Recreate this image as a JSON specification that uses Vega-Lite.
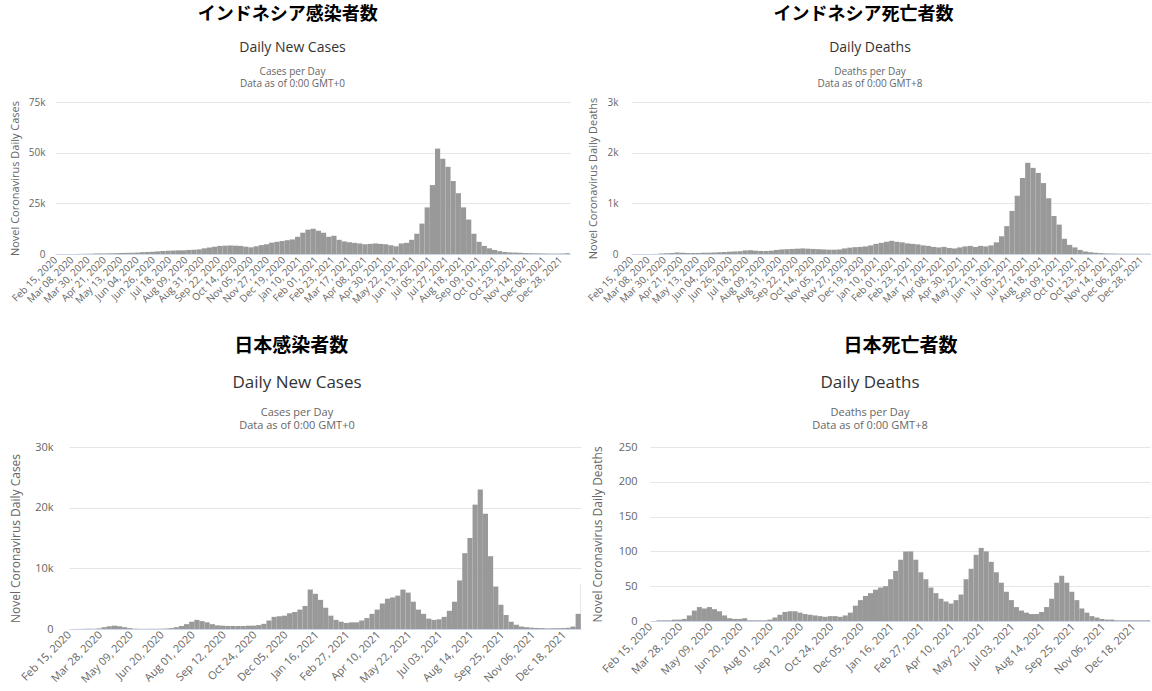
{
"$schema": "https://vega.github.io/schema/vega-lite/v6.json",
"background": "white",
"padding": {"left": 8, "top": 6, "right": 0, "bottom": 0},
"config": {
 "font": "Open Sans",
 "view": {"stroke": null},
 "axis": {"labelColor": "#666666", "titleColor": "#666666", "labelFont": "Open Sans", "titleFont": "Open Sans", "titleFontWeight": "normal", "gridColor": "#e6e6e6", "domainColor": "#ccd6eb"},
 "title": {"font": "Open Sans", "fontWeight": "normal", "color": "#333333", "subtitleColor": "#666666", "subtitleFont": "Open Sans", "anchor": "middle"}
},
"datasets": {"covid": [
{"d":"2020-02-16","ic":0,"id":0,"jc":0,"jd":0},
{"d":"2020-02-23","ic":0,"id":0,"jc":10,"jd":1},
{"d":"2020-03-01","ic":1,"id":0,"jc":30,"jd":1},
{"d":"2020-03-08","ic":10,"id":0,"jc":50,"jd":1},
{"d":"2020-03-15","ic":50,"id":2,"jc":40,"jd":2},
{"d":"2020-03-22","ic":100,"id":10,"jc":100,"jd":2},
{"d":"2020-03-29","ic":120,"id":15,"jc":300,"jd":3},
{"d":"2020-04-05","ic":250,"id":20,"jc":450,"jd":8},
{"d":"2020-04-12","ic":300,"id":30,"jc":550,"jd":15},
{"d":"2020-04-19","ic":300,"id":25,"jc":450,"jd":20},
{"d":"2020-04-26","ic":350,"id":20,"jc":300,"jd":18},
{"d":"2020-05-03","ic":400,"id":20,"jc":150,"jd":20},
{"d":"2020-05-10","ic":500,"id":20,"jc":50,"jd":17},
{"d":"2020-05-17","ic":550,"id":25,"jc":30,"jd":14},
{"d":"2020-05-24","ic":600,"id":25,"jc":30,"jd":8},
{"d":"2020-05-31","ic":700,"id":30,"jc":40,"jd":4},
{"d":"2020-06-07","ic":900,"id":35,"jc":40,"jd":3},
{"d":"2020-06-14","ic":1000,"id":40,"jc":50,"jd":3},
{"d":"2020-06-21","ic":1100,"id":45,"jc":80,"jd":4},
{"d":"2020-06-28","ic":1300,"id":50,"jc":150,"jd":1},
{"d":"2020-07-05","ic":1500,"id":55,"jc":300,"jd":1},
{"d":"2020-07-12","ic":1600,"id":70,"jc":500,"jd":1},
{"d":"2020-07-19","ic":1700,"id":75,"jc":800,"jd":1},
{"d":"2020-07-26","ic":1800,"id":65,"jc":1200,"jd":2},
{"d":"2020-08-02","ic":1800,"id":60,"jc":1500,"jd":5},
{"d":"2020-08-09","ic":2000,"id":60,"jc":1300,"jd":9},
{"d":"2020-08-16","ic":2100,"id":65,"jc":1100,"jd":13},
{"d":"2020-08-23","ic":2300,"id":80,"jc":800,"jd":14},
{"d":"2020-08-30","ic":2800,"id":90,"jc":600,"jd":14},
{"d":"2020-09-06","ic":3200,"id":95,"jc":550,"jd":12},
{"d":"2020-09-13","ic":3600,"id":100,"jc":500,"jd":10},
{"d":"2020-09-20","ic":4000,"id":105,"jc":500,"jd":9},
{"d":"2020-09-27","ic":4100,"id":110,"jc":500,"jd":8},
{"d":"2020-10-04","ic":4200,"id":105,"jc":500,"jd":7},
{"d":"2020-10-11","ic":4100,"id":100,"jc":550,"jd":6},
{"d":"2020-10-18","ic":4000,"id":95,"jc":550,"jd":7},
{"d":"2020-10-25","ic":3600,"id":90,"jc":650,"jd":7},
{"d":"2020-11-01","ic":3300,"id":85,"jc":850,"jd":6},
{"d":"2020-11-08","ic":3800,"id":85,"jc":1400,"jd":8},
{"d":"2020-11-15","ic":4400,"id":90,"jc":2000,"jd":12},
{"d":"2020-11-22","ic":4800,"id":110,"jc":2100,"jd":22},
{"d":"2020-11-29","ic":5600,"id":125,"jc":2200,"jd":30},
{"d":"2020-12-06","ic":6000,"id":135,"jc":2600,"jd":36},
{"d":"2020-12-13","ic":6400,"id":140,"jc":2800,"jd":40},
{"d":"2020-12-20","ic":6800,"id":150,"jc":3200,"jd":45},
{"d":"2020-12-27","ic":7200,"id":170,"jc":3800,"jd":48},
{"d":"2021-01-03","ic":8500,"id":200,"jc":6500,"jd":50},
{"d":"2021-01-10","ic":10500,"id":220,"jc":5800,"jd":60},
{"d":"2021-01-17","ic":12000,"id":240,"jc":4800,"jd":72},
{"d":"2021-01-24","ic":12500,"id":260,"jc":3500,"jd":88},
{"d":"2021-01-31","ic":11500,"id":240,"jc":2200,"jd":100},
{"d":"2021-02-07","ic":10500,"id":230,"jc":1500,"jd":100},
{"d":"2021-02-14","ic":8500,"id":210,"jc":1200,"jd":88},
{"d":"2021-02-21","ic":9000,"id":200,"jc":1000,"jd":70},
{"d":"2021-02-28","ic":7000,"id":190,"jc":1100,"jd":60},
{"d":"2021-03-07","ic":6200,"id":170,"jc":1100,"jd":48},
{"d":"2021-03-14","ic":5800,"id":160,"jc":1400,"jd":40},
{"d":"2021-03-21","ic":5500,"id":140,"jc":1800,"jd":32},
{"d":"2021-03-28","ic":5200,"id":130,"jc":2500,"jd":28},
{"d":"2021-04-04","ic":4800,"id":140,"jc":3200,"jd":25},
{"d":"2021-04-11","ic":5000,"id":120,"jc":4200,"jd":30},
{"d":"2021-04-18","ic":5200,"id":110,"jc":5000,"jd":38},
{"d":"2021-04-25","ic":5000,"id":130,"jc":5200,"jd":60},
{"d":"2021-05-02","ic":4800,"id":150,"jc":5500,"jd":75},
{"d":"2021-05-09","ic":4300,"id":160,"jc":6500,"jd":95},
{"d":"2021-05-16","ic":3800,"id":140,"jc":6000,"jd":105},
{"d":"2021-05-23","ic":5200,"id":160,"jc":4500,"jd":100},
{"d":"2021-05-30","ic":5500,"id":150,"jc":3200,"jd":85},
{"d":"2021-06-06","ic":7000,"id":170,"jc":2500,"jd":70},
{"d":"2021-06-13","ic":10000,"id":230,"jc":1700,"jd":55},
{"d":"2021-06-20","ic":15000,"id":350,"jc":1500,"jd":42},
{"d":"2021-06-27","ic":23000,"id":550,"jc":1600,"jd":30},
{"d":"2021-07-04","ic":34000,"id":850,"jc":2000,"jd":20},
{"d":"2021-07-11","ic":52000,"id":1150,"jc":3000,"jd":15},
{"d":"2021-07-18","ic":47000,"id":1500,"jc":4500,"jd":12},
{"d":"2021-07-25","ic":43000,"id":1800,"jc":8000,"jd":10},
{"d":"2021-08-01","ic":36000,"id":1700,"jc":12500,"jd":10},
{"d":"2021-08-08","ic":30000,"id":1600,"jc":15000,"jd":13},
{"d":"2021-08-15","ic":23000,"id":1400,"jc":20500,"jd":20},
{"d":"2021-08-22","ic":17000,"id":1100,"jc":23000,"jd":32},
{"d":"2021-08-29","ic":10000,"id":750,"jc":19000,"jd":55},
{"d":"2021-09-05","ic":6000,"id":580,"jc":12000,"jd":65},
{"d":"2021-09-12","ic":4000,"id":300,"jc":7000,"jd":55},
{"d":"2021-09-19","ic":2800,"id":180,"jc":4000,"jd":42},
{"d":"2021-09-26","ic":2000,"id":130,"jc":2300,"jd":30},
{"d":"2021-10-03","ic":1400,"id":80,"jc":1200,"jd":18},
{"d":"2021-10-10","ic":1000,"id":50,"jc":700,"jd":12},
{"d":"2021-10-17","ic":800,"id":35,"jc":400,"jd":7},
{"d":"2021-10-24","ic":700,"id":25,"jc":300,"jd":5},
{"d":"2021-10-31","ic":600,"id":18,"jc":220,"jd":3},
{"d":"2021-11-07","ic":450,"id":12,"jc":170,"jd":2},
{"d":"2021-11-14","ic":400,"id":10,"jc":150,"jd":2},
{"d":"2021-11-21","ic":350,"id":8,"jc":100,"jd":1},
{"d":"2021-11-28","ic":300,"id":6,"jc":120,"jd":1},
{"d":"2021-12-05","ic":250,"id":6,"jc":130,"jd":1},
{"d":"2021-12-12","ic":200,"id":5,"jc":150,"jd":1},
{"d":"2021-12-19","ic":200,"id":5,"jc":200,"jd":1},
{"d":"2021-12-26","ic":250,"id":5,"jc":400,"jd":1},
{"d":"2022-01-02","ic":400,"id":5,"jc":2500,"jd":1},
{"d":"2022-01-09","ic":600,"id":6,"jc":7500,"jd":2}
], "none": []},
"spacing": 31,
"vconcat": [
 {"spacing": 0, "hconcat": [
  {"data": {"name": "none"}, "mark": "point", "encoding": {}, "width": 1, "height": 1},
  {"spacing": 16, "hconcat": [
  {"title": {"text": "インドネシア感染者数", "font": "Noto Sans CJK JP", "fontSize": 18, "fontWeight": "bold", "color": "#000000", "offset": 17, "dx": -2},
   "vconcat": [{
    "data": {"name": "covid"},
    "width": 515, "height": 152,
    "title": {"text": "Daily New Cases", "subtitle": ["Cases per Day", "Data as of 0:00 GMT+0"], "fontSize": 14, "subtitleFontSize": 10, "subtitleLineHeight": 12, "subtitlePadding": 12, "offset": 8, "dx": -20},
    "mark": {"type": "bar", "color": "#999999", "clip": true, "binSpacing": 0},
    "encoding": {
     "x": {"field": "d", "type": "temporal", "timeUnit": "utcyearweek",
      "scale": {"domain": [{"year": 2020, "month": 2, "date": 14, "hours": 12, "utc": true}, {"year": 2022, "month": 1, "date": 10, "utc": true}], "nice": false},
      "axis": {"values": {"expr": "sequence(utc(2020,1,15), utc(2022,0,5), 1900800000)"}, "labelExpr": "utcFormat(datum.value, '%b %d, %Y')", "labelAngle": -45, "labelAlign": "right", "labelBaseline": "middle", "labelFontSize": 10, "labelPadding": 4, "ticks": false, "grid": false, "title": null, "labelOverlap": false, "labelBound": false, "labelFlush": false}},
     "y": {"field": "ic", "type": "quantitative", "scale": {"domain": [0, 75000], "nice": false},
      "axis": {"values": [0, 25000, 50000, 75000], "labelExpr": "datum.value >= 1000 ? (datum.value / 1000) + 'k' : datum.value", "title": "Novel Coronavirus Daily Cases", "domain": false, "ticks": false, "labelPadding": 10, "titlePadding": 8, "labelFontSize": 10, "titleFontSize": 11}}
    }
   }]},
  {"title": {"text": "インドネシア死亡者数", "font": "Noto Sans CJK JP", "fontSize": 18, "fontWeight": "bold", "color": "#000000", "offset": 17, "dx": -5},
   "vconcat": [{
    "data": {"name": "covid"},
    "width": 520, "height": 152,
    "title": {"text": "Daily Deaths", "subtitle": ["Deaths per Day", "Data as of 0:00 GMT+8"], "fontSize": 14, "subtitleFontSize": 10, "subtitleLineHeight": 12, "subtitlePadding": 12, "offset": 8, "dx": -21},
    "mark": {"type": "bar", "color": "#999999", "clip": true, "binSpacing": 0},
    "encoding": {
     "x": {"field": "d", "type": "temporal", "timeUnit": "utcyearweek",
      "scale": {"domain": [{"year": 2020, "month": 2, "date": 14, "hours": 12, "utc": true}, {"year": 2022, "month": 1, "date": 10, "utc": true}], "nice": false},
      "axis": {"values": {"expr": "sequence(utc(2020,1,15), utc(2022,0,5), 1900800000)"}, "labelExpr": "utcFormat(datum.value, '%b %d, %Y')", "labelAngle": -45, "labelAlign": "right", "labelBaseline": "middle", "labelFontSize": 10, "labelPadding": 4, "ticks": false, "grid": false, "title": null, "labelOverlap": false, "labelBound": false, "labelFlush": false}},
     "y": {"field": "id", "type": "quantitative", "scale": {"domain": [0, 3000], "nice": false},
      "axis": {"values": [0, 1000, 2000, 3000], "labelExpr": "datum.value >= 1000 ? (datum.value / 1000) + 'k' : datum.value", "title": "Novel Coronavirus Daily Deaths", "domain": false, "ticks": false, "labelPadding": 13, "titlePadding": 9, "labelFontSize": 10, "titleFontSize": 11}}
    }
   }]}
  ]}
 ]},
 {"spacing": 0, "hconcat": [
  {"data": {"name": "none"}, "mark": "point", "encoding": {}, "width": 1, "height": 1},
  {"spacing": 10, "hconcat": [
  {"title": {"text": "日本感染者数", "font": "Noto Sans CJK JP", "fontSize": 19, "fontWeight": "bold", "color": "#000000", "offset": 18, "dx": -4},
   "vconcat": [{
    "data": {"name": "covid"},
    "width": 512, "height": 182,
    "title": {"text": "Daily New Cases", "subtitle": ["Cases per Day", "Data as of 0:00 GMT+0"], "fontSize": 17, "subtitleFontSize": 11, "subtitleLineHeight": 13, "subtitlePadding": 15, "offset": 9, "dx": -28},
    "mark": {"type": "bar", "color": "#999999", "clip": true, "binSpacing": 0},
    "encoding": {
     "x": {"field": "d", "type": "temporal", "timeUnit": "utcyearweek",
      "scale": {"domain": [{"year": 2020, "month": 2, "date": 14, "hours": 12, "utc": true}, {"year": 2022, "month": 1, "date": 10, "utc": true}], "nice": false},
      "axis": {"values": {"expr": "sequence(utc(2020,1,15), utc(2022,0,1), 3628800000)"}, "labelExpr": "utcFormat(datum.value, '%b %d, %Y')", "labelAngle": -45, "labelAlign": "right", "labelBaseline": "middle", "labelFontSize": 11, "labelPadding": 4, "ticks": false, "grid": false, "title": null, "labelOverlap": false, "labelBound": false, "labelFlush": false}},
     "y": {"field": "jc", "type": "quantitative", "scale": {"domain": [0, 30000], "nice": false},
      "axis": {"values": [0, 10000, 20000, 30000], "labelExpr": "datum.value >= 1000 ? (datum.value / 1000) + 'k' : datum.value", "title": "Novel Coronavirus Daily Cases", "domain": false, "ticks": false, "labelPadding": 16, "titlePadding": 12, "labelFontSize": 11, "titleFontSize": 12}}
    }
   }]},
  {"title": {"text": "日本死亡者数", "font": "Noto Sans CJK JP", "fontSize": 19, "fontWeight": "bold", "color": "#000000", "offset": 18, "dx": 30},
   "vconcat": [{
    "data": {"name": "covid"},
    "width": 500, "height": 174,
    "title": {"text": "Daily Deaths", "subtitle": ["Deaths per Day", "Data as of 0:00 GMT+8"], "fontSize": 17, "subtitleFontSize": 11, "subtitleLineHeight": 13, "subtitlePadding": 15, "offset": 9, "dx": -30},
    "mark": {"type": "bar", "color": "#999999", "clip": true, "binSpacing": 0},
    "encoding": {
     "x": {"field": "d", "type": "temporal", "timeUnit": "utcyearweek",
      "scale": {"domain": [{"year": 2020, "month": 2, "date": 14, "hours": 12, "utc": true}, {"year": 2022, "month": 1, "date": 10, "utc": true}], "nice": false},
      "axis": {"values": {"expr": "sequence(utc(2020,1,15), utc(2022,0,1), 3628800000)"}, "labelExpr": "utcFormat(datum.value, '%b %d, %Y')", "labelAngle": -45, "labelAlign": "right", "labelBaseline": "middle", "labelFontSize": 11, "labelPadding": 4, "ticks": false, "grid": false, "title": null, "labelOverlap": false, "labelBound": false, "labelFlush": false}},
     "y": {"field": "jd", "type": "quantitative", "scale": {"domain": [0, 250], "nice": false},
      "axis": {"values": [0, 50, 100, 150, 200, 250], "title": "Novel Coronavirus Daily Deaths", "domain": false, "ticks": false, "labelPadding": 13, "titlePadding": 14, "labelFontSize": 11, "titleFontSize": 12}}
    }
   }]}
  ]}
 ]}
]
}
